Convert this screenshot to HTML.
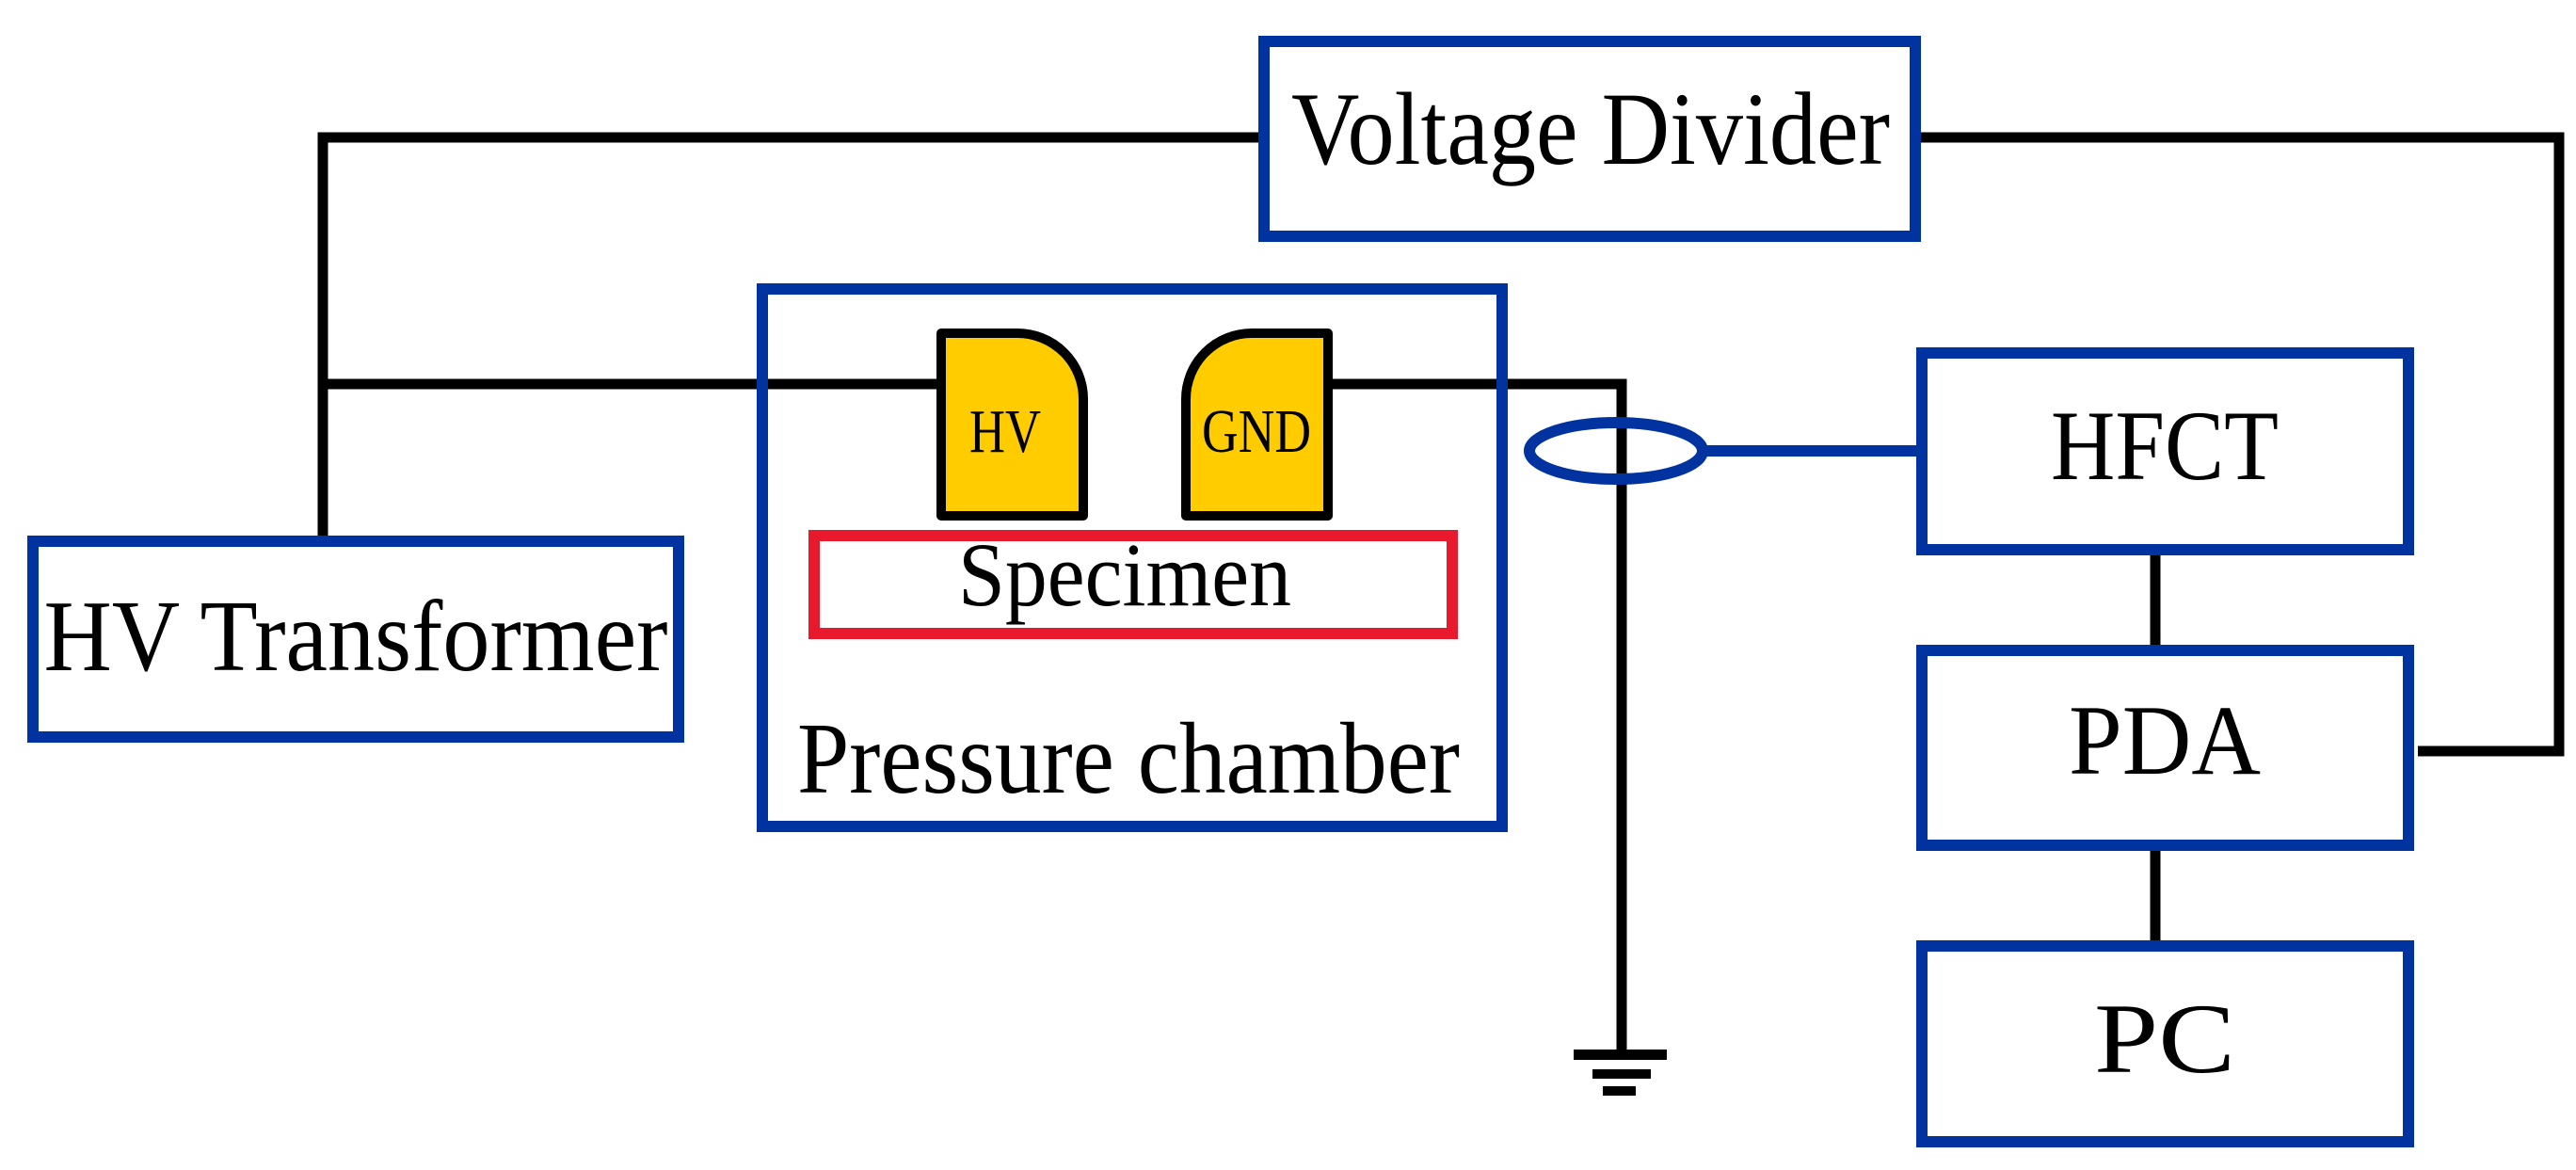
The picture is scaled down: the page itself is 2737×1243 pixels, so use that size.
<!DOCTYPE html>
<html><head><style>html,body{margin:0;padding:0;background:#fff}svg{display:block}</style></head><body>
<svg width="2737" height="1243" viewBox="0 0 2737 1243" xmlns="http://www.w3.org/2000/svg" font-family="Liberation Serif, serif">
<g stroke="#000" stroke-width="11" fill="none">
<polyline points="1337,146 343,146 343,569"/>
<line x1="343" y1="408" x2="995" y2="408"/>
<polyline points="1416,408 1723,408 1723,1121"/>
<polyline points="2041,146 2719,146 2719,798 2569,798"/>
<line x1="2290" y1="590" x2="2290" y2="685"/>
<line x1="2290" y1="904" x2="2290" y2="999"/>
</g>
<g fill="#000">
<rect x="1672" y="1115" width="99" height="11"/>
<rect x="1692" y="1136" width="62" height="10"/>
<rect x="1703" y="1154" width="35" height="10"/>
</g>
<g stroke="#0033a0" stroke-width="12" fill="none">
<rect x="1343" y="44" width="692" height="207"/>
<rect x="35" y="575" width="686" height="208"/>
<rect x="810" y="307" width="786" height="571"/>
<rect x="2042" y="375" width="517" height="209"/>
<rect x="2042" y="691" width="517" height="207"/>
<rect x="2042" y="1005" width="517" height="208"/>
<ellipse cx="1717" cy="479" rx="92" ry="30"/>
<line x1="1809" y1="479" x2="2036" y2="479"/>
</g>
<rect x="865" y="569" width="678" height="104" stroke="#e8192c" stroke-width="12" fill="none"/>
<g fill="#ffcc00" stroke="#000" stroke-width="10" stroke-linejoin="round">
<path d="M1000,354 H1081 A70,70 0 0 1 1151,424 V548 H1000 Z"/>
<path d="M1411,354 H1330 A70,70 0 0 0 1260,424 V548 H1411 Z"/>
</g>
<g fill="#000" text-anchor="middle">
<text x="1690" y="174" font-size="110" textLength="636" lengthAdjust="spacingAndGlyphs">Voltage Divider</text>
<text x="378" y="712" font-size="108" textLength="663" lengthAdjust="spacingAndGlyphs">HV Transformer</text>
<text x="1195" y="643" font-size="96" textLength="354" lengthAdjust="spacingAndGlyphs">Specimen</text>
<text x="1199" y="842" font-size="108" textLength="704" lengthAdjust="spacingAndGlyphs">Pressure chamber</text>
<text x="1068" y="480" font-size="66" textLength="76" lengthAdjust="spacingAndGlyphs">HV</text>
<text x="1335" y="480" font-size="66" textLength="116" lengthAdjust="spacingAndGlyphs">GND</text>
<text x="2300" y="509" font-size="106" textLength="242" lengthAdjust="spacingAndGlyphs">HFCT</text>
<text x="2300" y="822" font-size="106" textLength="204" lengthAdjust="spacingAndGlyphs">PDA</text>
<text x="2300" y="1139" font-size="106" textLength="150" lengthAdjust="spacingAndGlyphs">PC</text>
</g>
</svg>
</body></html>
